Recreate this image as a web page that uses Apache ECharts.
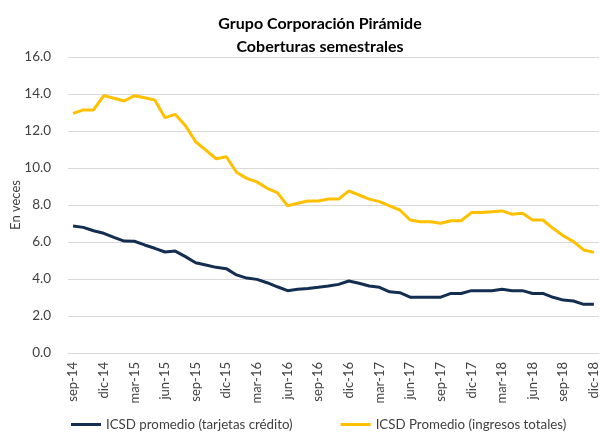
<!DOCTYPE html>
<html>
<head>
<meta charset="utf-8">
<script src="https://cdn.jsdelivr.net/npm/echarts@6/dist/echarts.min.js"></script>
<style>
  html, body { margin: 0; padding: 0; background: #fff; }
  #chart { width: 600px; height: 433px; }
</style>
</head>
<body>
<div id="chart"></div>
<script>
// meses de sep-14 a dic-18
var months = ['ene', 'feb', 'mar', 'abr', 'may', 'jun', 'jul', 'ago', 'sep', 'oct', 'nov', 'dic'];
var categories = [];
for (var y = 14; y <= 18; y++) {
    for (var m = 0; m < 12; m++) {
        if (y === 14 && m < 8) continue;
        categories.push(months[m] + '-' + y);
    }
}

var icsdTarjetas = [
    6.86, 6.79, 6.61, 6.47, 6.25, 6.05, 6.04, 5.84, 5.66, 5.46,
    5.51, 5.21, 4.88, 4.76, 4.63, 4.56, 4.22, 4.05, 3.98, 3.80,
    3.58, 3.37, 3.44, 3.49, 3.55, 3.62, 3.71, 3.89, 3.77, 3.62,
    3.55, 3.31, 3.26, 3.02, 3.02, 3.02, 3.02, 3.22, 3.22, 3.37,
    3.37, 3.37, 3.44, 3.37, 3.37, 3.22, 3.22, 3.01, 2.86, 2.81,
    2.63, 2.63
];

var icsdIngresos = [
    12.95, 13.14, 13.14, 13.91, 13.77, 13.62, 13.91, 13.80, 13.68, 12.72,
    12.90, 12.29, 11.42, 10.97, 10.50, 10.61, 9.77, 9.44, 9.25, 8.90,
    8.67, 7.96, 8.09, 8.22, 8.22, 8.32, 8.32, 8.76, 8.54, 8.32,
    8.18, 7.95, 7.73, 7.19, 7.10, 7.10, 7.01, 7.15, 7.15, 7.59,
    7.59, 7.63, 7.68, 7.50, 7.55, 7.19, 7.19, 6.74, 6.34, 6.02,
    5.57, 5.44
];

var seriesNames = ['ICSD promedio (tarjetas crédito)', 'ICSD Promedio (ingresos totales)'];
var seriesColors = ['#142e52', '#ffc000'];

var chart = echarts.init(document.getElementById('chart'));

var option = {
    animation: false,
    textStyle: { fontFamily: 'Lato' },
    title: {
        text: 'Grupo Corporación Pirámide\nCoberturas semestrales',
        left: 315,
        textAlign: 'center',
        top: 7,
        textStyle: {
            fontFamily: 'Lato',
            fontSize: 16,
            fontWeight: 'bold',
            color: '#000',
            lineHeight: 23
        }
    },
    legend: {
        bottom: -3,
        left: 66,
        itemGap: 48,
        itemWidth: 30,
        itemHeight: 3,
        icon: 'rect',
        textStyle: { fontFamily: 'Lato', fontSize: 13.3, color: '#404040' },
        data: seriesNames
    },
    grid: {
        left: 68,
        top: 57,
        width: 531,
        bottom: 80,
        containLabel: false,
        outerBoundsMode: 'none'
    },
    xAxis: {
        type: 'category',
        data: categories,
        boundaryGap: true,
        axisLine: { lineStyle: { color: '#d9d9d9' } },
        axisTick: { interval: 2, length: 5, lineStyle: { color: '#d9d9d9' } },
        axisLabel: {
            interval: 2,
            rotate: 90,
            margin: 9,
            fontFamily: 'Lato',
            fontSize: 13,
            color: '#404040'
        }
    },
    yAxis: {
        type: 'value',
        min: 0,
        max: 16,
        interval: 2,
        name: 'En veces',
        nameLocation: 'middle',
        nameGap: 46,
        nameMoveOverlap: false,
        nameTextStyle: { fontFamily: 'Lato', fontSize: 13, color: '#404040' },
        axisLine: { show: false },
        axisTick: { show: false },
        axisLabel: {
            margin: 17,
            fontFamily: 'Lato',
            fontSize: 13.5,
            color: '#404040',
            formatter: function (v) { return v.toFixed(1); }
        },
        splitLine: { lineStyle: { color: '#d9d9d9' } }
    },
    series: [
        {
            name: seriesNames[0],
            type: 'line',
            data: icsdTarjetas,
            showSymbol: false,
            color: seriesColors[0],
            lineStyle: { width: 3, color: seriesColors[0] }
        },
        {
            name: seriesNames[1],
            type: 'line',
            data: icsdIngresos,
            showSymbol: false,
            color: seriesColors[1],
            lineStyle: { width: 3, color: seriesColors[1] }
        }
    ]
};

chart.setOption(option);
</script>
</body>
</html>
